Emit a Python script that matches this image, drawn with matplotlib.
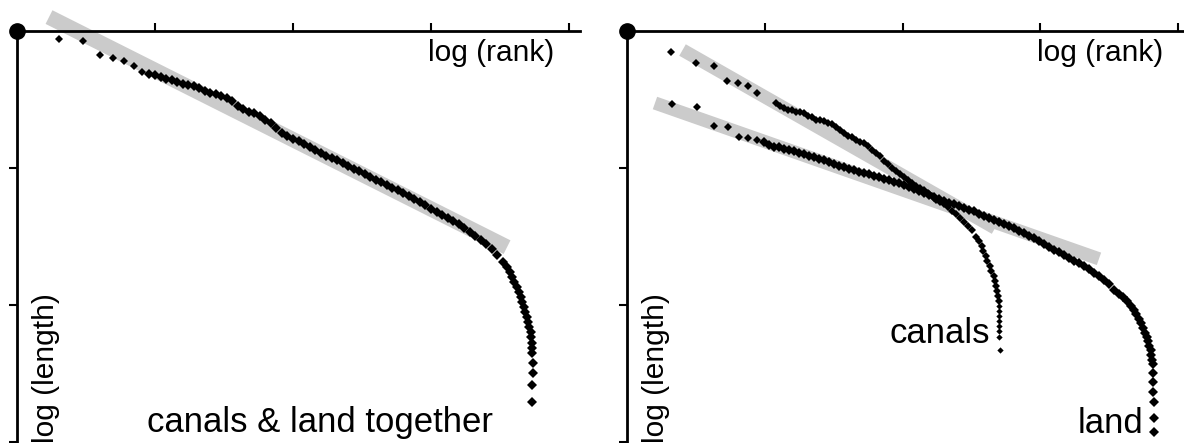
import numpy as np
import matplotlib
matplotlib.use("Agg")
import matplotlib.pyplot as plt

plt.rcParams["font.family"] = ["Liberation Sans", "DejaVu Sans"]

# rank-size plot, log10 units
# left: canals and land segments together
all_log_rank = [0.301, 0.477, 0.602, 0.699, 0.778, 0.845, 0.903,
                0.96, 1.00, 1.04, 1.08, 1.12, 1.16, 1.20, 1.24, 1.28, 1.32,
                1.36, 1.40, 1.44, 1.48, 1.52, 1.56, 1.60, 1.64, 1.68, 1.72,
                1.76, 1.80, 1.84, 1.88, 1.92, 1.96, 2.00, 2.04, 2.08, 2.12,
                2.16, 2.20, 2.24, 2.28, 2.32, 2.36, 2.40, 2.44, 2.48, 2.52,
                2.56, 2.60, 2.64, 2.68, 2.72, 2.76, 2.80, 2.84, 2.88, 2.92,
                2.96, 3.00, 3.04, 3.08, 3.12, 3.16, 3.20, 3.24, 3.28, 3.32,
                3.36, 3.40, 3.44, 3.48, 3.52,
                3.551, 3.569, 3.587, 3.604, 3.623, 3.636, 3.649, 3.661, 3.672,
                3.683, 3.693, 3.704, 3.713, 3.722,
                3.727, 3.730, 3.732, 3.734, 3.736, 3.736, 3.734, 3.732]
all_log_len = [2.942, 2.929, 2.825, 2.803, 2.783, 2.745, 2.703,
               2.685, 2.679, 2.664, 2.650, 2.642, 2.631, 2.616, 2.606, 2.602, 2.585,
               2.564, 2.551, 2.542, 2.528, 2.509, 2.488, 2.456, 2.431, 2.412, 2.398,
               2.380, 2.350, 2.330, 2.292, 2.257, 2.231, 2.215, 2.197, 2.175, 2.155,
               2.133, 2.109, 2.088, 2.074, 2.058, 2.036, 2.016, 1.996, 1.976, 1.956,
               1.936, 1.916, 1.896, 1.876, 1.856, 1.836, 1.816, 1.796, 1.775, 1.754,
               1.732, 1.704, 1.682, 1.658, 1.635, 1.613, 1.588, 1.564, 1.534, 1.504,
               1.474, 1.442, 1.409, 1.365, 1.314,
               1.277, 1.241, 1.204, 1.168, 1.131, 1.095, 1.058, 1.022, 0.985,
               0.949, 0.912, 0.876, 0.839, 0.803,
               0.766, 0.723, 0.686, 0.647, 0.574, 0.501, 0.416, 0.290]

# right: canals
canals_log_rank = [0.317, 0.501, 0.631, 0.728, 0.808, 0.880, 0.941,
                   1.081, 1.110, 1.139, 1.168, 1.197, 1.226, 1.255, 1.284, 1.313, 1.343,
                   1.372, 1.401, 1.430, 1.459, 1.488, 1.517, 1.546, 1.575, 1.604, 1.633,
                   1.662, 1.691, 1.720, 1.749, 1.778, 1.807, 1.836, 1.865, 1.894, 1.923,
                   1.952, 1.981, 2.010, 2.039, 2.068, 2.097, 2.126, 2.155, 2.184, 2.213,
                   2.242, 2.271, 2.300, 2.329, 2.358, 2.388, 2.417, 2.446, 2.475, 2.504,
                   2.533,
                   2.554, 2.573, 2.587, 2.602, 2.616, 2.631, 2.645, 2.660, 2.671, 2.678,
                   2.685, 2.692, 2.696, 2.700, 2.700, 2.702, 2.702, 2.702, 2.702, 2.702,
                   2.707]
canals_log_len = [2.849, 2.764, 2.745, 2.637, 2.623, 2.601, 2.550,
                  2.472, 2.456, 2.440, 2.427, 2.420, 2.412, 2.412, 2.398, 2.383, 2.369,
                  2.354, 2.347, 2.343, 2.330, 2.318, 2.299, 2.277, 2.255, 2.237, 2.223,
                  2.207, 2.192, 2.179, 2.161, 2.135, 2.111, 2.084, 2.053, 2.026, 2.000,
                  1.977, 1.954, 1.932, 1.911, 1.891, 1.871, 1.854, 1.836, 1.815, 1.793,
                  1.770, 1.752, 1.734, 1.712, 1.686, 1.661, 1.635, 1.606, 1.577, 1.544,
                  1.500,
                  1.467, 1.431, 1.394, 1.358, 1.321, 1.285, 1.248, 1.212, 1.175, 1.139,
                  1.102, 1.066, 1.029, 0.993, 0.956, 0.920, 0.883, 0.847, 0.810, 0.769,
                  0.672]

# right: land
land_log_rank = [0.324, 0.506, 0.634, 0.735, 0.813, 0.880, 0.941,
                 0.994, 1.030, 1.067, 1.103, 1.139, 1.176, 1.212, 1.248, 1.284, 1.321,
                 1.357, 1.393, 1.430, 1.466, 1.502, 1.538, 1.575, 1.611, 1.647, 1.684,
                 1.720, 1.756, 1.792, 1.829, 1.865, 1.901, 1.938, 1.974, 2.010, 2.046,
                 2.083, 2.119, 2.155, 2.192, 2.228, 2.264, 2.300, 2.337, 2.373, 2.409,
                 2.446, 2.482, 2.518,
                 2.554, 2.591, 2.627, 2.663, 2.700, 2.736, 2.772, 2.808, 2.845, 2.881,
                 2.917, 2.954, 2.990, 3.026, 3.062, 3.099, 3.135, 3.171, 3.208, 3.244,
                 3.280, 3.316, 3.353, 3.389, 3.425, 3.462, 3.498, 3.534, 3.570, 3.599,
                 3.628, 3.654, 3.676, 3.697, 3.716, 3.730, 3.745, 3.759, 3.770, 3.781,
                 3.790, 3.799, 3.805, 3.810, 3.815,
                 3.819, 3.819, 3.819, 3.821, 3.824, 3.824]
land_log_len = [2.467, 2.443, 2.307, 2.301, 2.228, 2.217, 2.204,
                2.190, 2.168, 2.153, 2.150, 2.139, 2.128, 2.122, 2.112, 2.099, 2.088,
                2.080, 2.067, 2.055, 2.044, 2.031, 2.018, 2.007, 1.996, 1.985, 1.974,
                1.964, 1.953, 1.942, 1.931, 1.920, 1.909, 1.898, 1.887, 1.876, 1.861,
                1.847, 1.832, 1.818, 1.803, 1.788, 1.774, 1.761, 1.748, 1.736, 1.723,
                1.710, 1.697, 1.684,
                1.661, 1.647, 1.635, 1.620, 1.606, 1.591, 1.577, 1.560, 1.542, 1.524,
                1.506, 1.487, 1.467, 1.447, 1.426, 1.405, 1.385, 1.364, 1.343, 1.323,
                1.303, 1.282, 1.261, 1.237, 1.212, 1.182, 1.150, 1.113, 1.077, 1.058,
                1.029, 0.996, 0.964, 0.931, 0.898, 0.865, 0.832, 0.799, 0.766, 0.734,
                0.701, 0.668, 0.635, 0.602, 0.569,
                0.501, 0.440, 0.367, 0.294, 0.173, 0.076]

# fitted lines: slope, intercept, first and last log(rank)
fit_all = (-0.506, 3.219, 0.232, 3.551)
fit_canals = (-0.573, 3.092, 0.403, 2.671)
fit_land = (-0.353, 2.546, 0.203, 3.425)

band_color = "#cbcbcb"

fig = plt.figure(figsize=(11.84, 4.43), dpi=100)
ax1 = fig.add_axes([17 / 1184, 0, 563 / 1184, 412 / 443])
ax2 = fig.add_axes([627 / 1184, 0, 557 / 1184, 412 / 443])


def draw_fit(ax, fit, lw):
    s, b, x0, x1 = fit
    xs = np.array([x0, x1])
    ax.plot(xs, s * xs + b, color=band_color, lw=lw, solid_capstyle="butt",
            zorder=1, clip_on=False)


def draw_points(ax, x, y, ms_head, ms_body, ms_tail, n_head=7, n_tail=6):
    # first few ranks are isolated dots, the long middle overlaps into a thick trace
    x = np.asarray(x)
    y = np.asarray(y)
    parts = [(slice(0, n_head), ms_head),
             (slice(n_head, len(x) - n_tail), ms_body),
             (slice(len(x) - n_tail, len(x)), ms_tail)]
    for sl, ms in parts:
        ax.plot(x[sl], y[sl], "D", color="black", ms=ms, mew=0,
                linestyle="none", zorder=3)


def setup(ax, xmax):
    ax.set_xlim(0, xmax)
    ax.set_ylim(3 - 412 / 137, 3)
    for side in ["right", "bottom"]:
        ax.spines[side].set_visible(False)
    for side in ["top", "left"]:
        ax.spines[side].set_linewidth(2)
        ax.spines[side].set_zorder(4)
    ax.xaxis.tick_top()
    ax.set_xticks([1, 2, 3, 4])
    ax.set_yticks([0, 1, 2])
    ax.tick_params(direction="out", length=6, width=1.5,
                   labeltop=False, labelleft=False, labelbottom=False)
    ax.plot(0, 3, "o", color="black", ms=11, clip_on=False, zorder=5)
    ax.text(2.978, 2.781, "log (rank)", fontsize=21.5, ha="left", va="baseline")
    ax.text(0.265, -0.01, "log (length)", fontsize=21.5, rotation=90,
            rotation_mode="anchor", ha="left", va="baseline")


setup(ax1, 563 / 138)
draw_fit(ax1, fit_all, 11)
draw_points(ax1, all_log_rank, all_log_len, 4.2, 5.2, 5.0, n_tail=8)
ax1.text(0.942, 0.07, "canals & land together", fontsize=25, ha="left", va="baseline")

setup(ax2, 557 / 137.8)
draw_fit(ax2, fit_canals, 9.5)
draw_fit(ax2, fit_land, 9.5)
draw_points(ax2, canals_log_rank, canals_log_len, 3.6, 3.6, 3.2, n_tail=8)
draw_points(ax2, land_log_rank, land_log_len, 4.3, 5.2, 4.8, n_tail=6)
ax2.text(2.634, 0.723, "canals", fontsize=25, ha="right", va="baseline")
ax2.text(3.747, 0.066, "land", fontsize=25, ha="right", va="baseline")

fig.savefig("out.png", dpi=100)
